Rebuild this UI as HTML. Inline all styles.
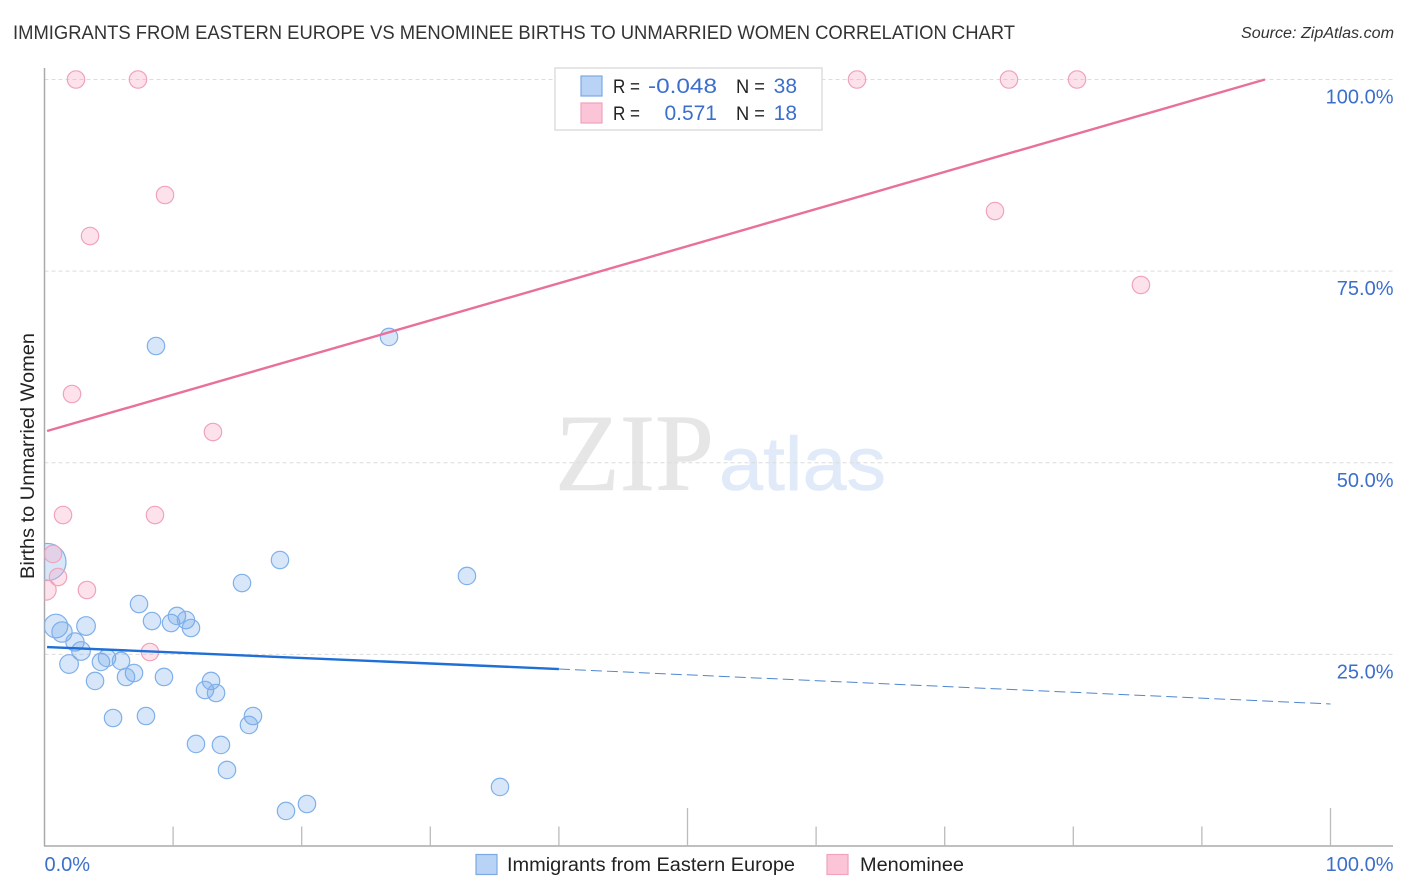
<!DOCTYPE html>
<html lang="en">
<head>
<meta charset="utf-8">
<title>Immigrants from Eastern Europe vs Menominee Births to Unmarried Women Correlation Chart</title>
<style>
html,body{margin:0;padding:0;background:#fff;width:1406px;height:892px;overflow:hidden}
svg{display:block}
text{font-family:"Liberation Sans",sans-serif}
.tick{fill:#3b6fcb;font-size:20px}
.lab{fill:#222;font-size:19px}
.val{fill:#3b6fcb;font-size:21px}
</style>
</head>
<body>
<svg id="chart" width="1406" height="892" viewBox="0 0 1406 892" xmlns="http://www.w3.org/2000/svg">
  <defs><clipPath id="plot-clip"><rect x="44.5" y="60" width="1350" height="786"></rect></clipPath></defs>
  <text x="13" y="39" font-size="19" fill="#333" textLength="1002" lengthAdjust="spacingAndGlyphs">IMMIGRANTS FROM EASTERN EUROPE VS MENOMINEE BIRTHS TO UNMARRIED WOMEN CORRELATION CHART</text>
  <text x="1241" y="38" font-size="15.5" font-style="italic" fill="#333" textLength="153" lengthAdjust="spacingAndGlyphs">Source: ZipAtlas.com</text>

  <g>
    <text x="555" y="490" font-size="110" fill="#e6e6e6" stroke="#e6e6e6" stroke-width="0.6" style="font-family:'Liberation Serif',serif" textLength="159" lengthAdjust="spacingAndGlyphs">ZIP</text>
    <text x="719" y="490" font-size="76" fill="#e0eaf9" stroke="#e0eaf9" stroke-width="0.6" textLength="167" lengthAdjust="spacingAndGlyphs">atlas</text>
  </g>

  <g id="grid"></g>
  <g id="axes"></g>
  <g id="points" clip-path="url(#plot-clip)"></g>
  <g id="trends"></g>
  <g id="labels"></g>

  <text transform="translate(34,456) rotate(-90)" text-anchor="middle" font-size="19" fill="#222" textLength="246" lengthAdjust="spacingAndGlyphs">Births to Unmarried Women</text>

  <g>
    <rect x="555" y="68" width="267" height="62" fill="#fff" stroke="#ddd" stroke-width="1.5"></rect>
    <rect x="581" y="76" width="21" height="20" fill="#b9d3f7" stroke="#7ba9e2" stroke-width="1.2"></rect>
    <rect x="581" y="103" width="21" height="20" fill="#fcc5d7" stroke="#f0a3ba" stroke-width="1.2"></rect>
    <text class="lab" x="613" y="93" textLength="27" lengthAdjust="spacingAndGlyphs">R =</text>
    <text class="val" x="648" y="93" textLength="69" lengthAdjust="spacingAndGlyphs">-0.048</text>
    <text class="lab" x="736" y="93" textLength="29" lengthAdjust="spacingAndGlyphs">N =</text>
    <text class="val" x="797" y="93" text-anchor="end">38</text>
    <text class="lab" x="613" y="120" textLength="27" lengthAdjust="spacingAndGlyphs">R =</text>
    <text class="val" x="717" y="120" text-anchor="end">0.571</text>
    <text class="lab" x="736" y="120" textLength="29" lengthAdjust="spacingAndGlyphs">N =</text>
    <text class="val" x="797" y="120" text-anchor="end">18</text>
  </g>

  <g>
    <g>
      <rect x="476" y="854.5" width="21" height="20" fill="#b9d3f7" stroke="#7ba9e2" stroke-width="1.2"></rect>
      <text class="lab" x="507" y="871" textLength="288" lengthAdjust="spacingAndGlyphs">Immigrants from Eastern Europe</text>
    </g>
    <g>
      <rect x="827" y="854.5" width="21" height="20" fill="#fcc5d7" stroke="#f0a3ba" stroke-width="1.2"></rect>
      <text class="lab" x="860" y="871" textLength="104" lengthAdjust="spacingAndGlyphs">Menominee</text>
    </g>
  </g>
</svg>
<script>
// Chart data (percent values)
const yTickValues = [25, 50, 75, 100];
const yTickLabels = ["25.0%", "50.0%", "75.0%", "100.0%"];
const xTickValues = [10, 20, 30, 40, 50, 60, 70, 80, 90, 100];
const xMajorTicks = [50, 100];
const xEdgeValues = [0, 100];
const xEdgeLabels = ["0.0%", "100.0%"];

const immigrantsX = [8.67,26.79,18.31,15.36,32.85,7.35,8.36,9.84,10.30,11.00,11.39,3.23,0.89,1.36,2.37,2.84,1.91,4.39,4.86,5.95,6.96,6.34,3.93,9.29,12.95,12.48,13.34,5.33,7.89,16.21,15.90,11.78,13.72,14.19,18.78,20.41,35.42,0.23];
const immigrantsY = [65.23,66.41,37.31,34.31,35.23,31.57,29.35,29.09,30.01,29.48,28.44,28.70,28.70,27.92,26.61,25.44,23.74,24.01,24.53,24.14,22.57,22.05,21.53,22.05,21.53,20.35,19.96,16.70,16.96,16.96,15.79,13.31,13.18,9.92,4.57,5.48,7.70,37.05];
const immigrantsWeight = [1,1,1,1,1,1,1,1,1,1,1,1.15,1.85,1.35,1.1,1.15,1.15,1,1,1,1,1,1,1,1,1,1,1,1,1,1,1,1,1,1,1,1,4.55];

const menomineeX = [2.45,7.27,63.18,75.00,80.29,9.37,3.54,73.91,85.26,2.14,13.10,1.44,8.59,0.66,1.05,3.30,0.12,8.20];
const menomineeY = [100,100,100,100,100,84.93,79.58,82.84,73.19,58.97,54.01,43.18,43.18,38.10,35.09,33.40,33.40,25.31];
const menomineeWeight = [1,1,1,1,1,1,1,1,1,1,1,1,1,1,1,1,1.35,1];

const immigrantsTrendX = [0.2, 40];
const immigrantsTrendY = [25.96, 23.09];
const immigrantsDashX = [40, 100];
const immigrantsDashY = [23.09, 18.53];
const menomineeTrendX = [0.2, 94.9];
const menomineeTrendY = [54.14, 100];

// Axis functions
function xScale(v) { return 44.5 + v * 12.86; }
function yScale(v) { return 846 - v * 7.665; }
function rScale(w) { return 8.7 * Math.sqrt(w); }

const NS = "http://www.w3.org/2000/svg";
function make(tag, parent, attrs) {
  const el = document.createElementNS(NS, tag);
  for (const k in attrs) el.setAttribute(k, attrs[k]);
  parent.appendChild(el);
  return el;
}
const grid = document.getElementById("grid");
const axes = document.getElementById("axes");
const points = document.getElementById("points");
const trends = document.getElementById("trends");
const labels = document.getElementById("labels");

yTickValues.forEach(function (v, i) {
  const line = make("line", grid, {x1: 44.5, x2: 1393, y1: yScale(v), y2: yScale(v), stroke: "#dcdcdc", "stroke-width": 1, "stroke-dasharray": "4 3"});
  
  
  const t = make("text", labels, {x: 1393.5, y: yScale(v) + 24, "text-anchor": "end", class: "tick"});
  t.textContent = yTickLabels[i];
  
  
});

const yAxis = make("line", axes, {x1: 44.5, x2: 44.5, y1: 68, y2: 846, stroke: "#aaa", "stroke-width": 1.5});


const xAxis = make("line", axes, {x1: 44, x2: 1393, y1: 846, y2: 846, stroke: "#aaa", "stroke-width": 1.5});



xTickValues.forEach(function (v) {
  const top = xMajorTicks.indexOf(v) >= 0 ? 808 : 826.5;
  const tick = make("line", axes, {x1: xScale(v), x2: xScale(v), y1: top, y2: 846, stroke: "#bbb", "stroke-width": 1.3});
  
  
});

xEdgeValues.forEach(function (v, i) {
  const t = make("text", labels, {x: i === 0 ? xScale(v) : 1393.5, y: 871, "text-anchor": i === 0 ? "start" : "end", class: "tick"});
  t.textContent = xEdgeLabels[i];
  
  
});

immigrantsX.forEach(function (v, i) {
  const c = make("circle", points, {cx: xScale(v), cy: yScale(immigrantsY[i]), r: rScale(immigrantsWeight[i]), fill: "rgba(112,165,235,0.28)", stroke: "#7fb0ea", "stroke-width": 1.2});
  
  
});
menomineeX.forEach(function (v, i) {
  const c = make("circle", points, {cx: xScale(v), cy: yScale(menomineeY[i]), r: rScale(menomineeWeight[i]), fill: "rgba(250,165,192,0.32)", stroke: "#f0a3ba", "stroke-width": 1.2});
  
  
});

const dash = make("line", trends, {x1: xScale(immigrantsDashX[0]), y1: yScale(immigrantsDashY[0]), x2: xScale(immigrantsDashX[1]), y2: yScale(immigrantsDashY[1]), stroke: "#4f86cf", "stroke-width": 1, "stroke-dasharray": "11 5"});


const blueTrend = make("line", trends, {x1: xScale(immigrantsTrendX[0]), y1: yScale(immigrantsTrendY[0]), x2: xScale(immigrantsTrendX[1]), y2: yScale(immigrantsTrendY[1]), stroke: "#1f6fd6", "stroke-width": 2.4});


const pinkTrend = make("line", trends, {x1: xScale(menomineeTrendX[0]), y1: yScale(menomineeTrendY[0]), x2: xScale(menomineeTrendX[1]), y2: yScale(menomineeTrendY[1]), stroke: "#e8709b", "stroke-width": 2.4});


</script>
</body>
</html>
